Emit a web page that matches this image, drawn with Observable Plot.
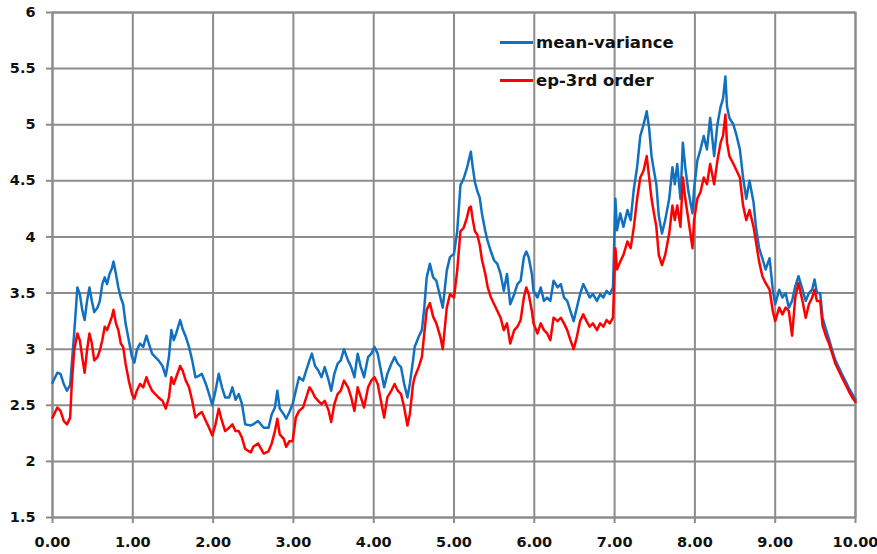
<!DOCTYPE html>
<html>
<head>
<meta charset="utf-8">
<script src="https://cdn.jsdelivr.net/npm/d3@7"></script>
<script src="https://cdn.jsdelivr.net/npm/@observablehq/plot@0.6"></script>
<style>
  html, body { margin: 0; padding: 0; background: #fff; }
  #wrap { position: relative; width: 877px; height: 554px; font-family: "DejaVu Sans", sans-serif; }
  #legend { position: absolute; left: 500px; top: 23px; font-weight: bold; font-size: 16.5px; color: #111; }
  .item { display: flex; align-items: center; height: 38px; }
  .swatch { width: 33px; height: 3px; margin-right: 3px; }
</style>
</head>
<body>
<div id="wrap">
  <div id="chart"></div>
  <div id="legend">
    <div class="item"><span class="swatch" style="background:#1170c0"></span>mean-variance</div>
    <div class="item"><span class="swatch" style="background:#ff0000"></span>ep-3rd order</div>
  </div>
</div>
<script>
const seriesNames = ["mean-variance", "ep-3rd order"];
const seriesColors = ["#1170c0", "#ff0000"];

const xs = [
  0.00,0.06,0.10,0.14,0.18,0.22,0.24,0.27,0.31,0.34,
  0.37,0.40,0.43,0.46,0.49,0.52,0.56,0.59,0.62,0.65,
  0.68,0.71,0.74,0.76,0.79,0.82,0.85,0.88,0.91,0.95,
  0.99,1.02,1.05,1.09,1.13,1.17,1.20,1.24,1.28,1.32,
  1.37,1.41,1.45,1.48,1.51,1.54,1.59,1.62,1.66,1.70,
  1.74,1.78,1.82,1.86,1.91,1.95,1.99,2.03,2.07,2.11,
  2.15,2.20,2.24,2.28,2.32,2.36,2.40,2.47,
  2.50,2.56,2.63,2.69,2.73,2.77,2.80,2.83,2.88,2.91,
  2.95,2.99,3.03,3.07,3.12,3.16,3.20,3.23,3.27,3.31,
  3.35,3.39,3.44,3.47,3.51,3.55,3.59,3.63,3.68,3.72,
  3.76,3.80,3.84,3.88,3.93,3.97,4.01,4.05,4.09,4.13,
  4.17,4.22,4.26,4.30,4.34,4.38,4.42,4.45,4.49,4.51,
  4.56,4.60,4.63,4.66,4.70,4.74,4.78,4.83,4.86,4.91,
  4.95,
  5.00,5.04,5.08,5.12,5.16,5.19,5.21,5.23,5.26,5.29,
  5.32,5.35,5.39,5.42,5.46,5.50,5.54,5.58,5.62,5.66,
  5.70,5.75,5.79,5.83,5.87,5.90,5.93,5.97,5.99,6.04,
  6.08,6.12,6.16,6.20,6.24,6.29,6.33,6.37,6.41,6.45,
  6.49,6.53,6.57,6.61,6.65,6.69,6.73,6.78,6.82,6.86,
  6.90,6.94,6.98,
  7.01,7.03,7.07,7.11,7.16,7.20,7.24,7.28,7.32,7.36,
  7.40,7.43,7.46,7.49,7.52,7.55,7.59,7.63,7.68,7.72,
  7.75,7.78,7.82,7.85,7.88,7.92,7.97,7.99,8.03,8.07,
  8.11,8.15,8.19,8.24,8.28,8.32,8.35,8.38,8.40,8.43,
  8.48,8.52,8.56,8.60,8.64,8.68,8.73,8.76,8.80,8.84,
  8.88,8.93,8.97,9.00,9.05,9.09,9.13,9.17,9.21,9.25,
  9.29,9.34,9.38,9.42,9.46,9.49,9.52,9.56,9.59,9.63,
  9.67,9.71,9.75,9.79,9.83,9.88,9.92,9.96,10.00
];

const meanVariance = [
  2.70,2.79,2.78,2.69,2.63,2.68,2.87,3.14,3.55,3.49,
  3.35,3.26,3.43,3.55,3.43,3.33,3.37,3.43,3.58,3.64,
  3.58,3.67,3.72,3.78,3.67,3.55,3.46,3.40,3.23,3.08,
  2.93,2.88,2.99,3.05,3.02,3.12,3.05,2.96,2.93,2.90,
  2.85,2.76,2.93,3.17,3.08,3.14,3.26,3.18,3.11,3.02,
  2.90,2.75,2.76,2.78,2.69,2.60,2.50,2.63,2.78,2.66,
  2.57,2.57,2.66,2.55,2.60,2.51,2.33,2.32,
  2.33,2.36,2.30,2.30,2.42,2.48,2.63,2.47,2.42,2.38,
  2.44,2.51,2.63,2.75,2.72,2.81,2.90,2.96,2.85,2.81,
  2.75,2.84,2.72,2.63,2.78,2.87,2.90,3.00,2.90,2.84,
  2.75,2.96,2.84,2.75,2.93,2.96,3.02,2.96,2.81,2.66,
  2.78,2.87,2.93,2.87,2.84,2.69,2.57,2.69,2.90,3.02,
  3.11,3.17,3.37,3.64,3.76,3.64,3.61,3.46,3.37,3.70,
  3.82,
  3.85,4.05,4.46,4.52,4.61,4.70,4.76,4.64,4.49,4.41,
  4.35,4.20,4.05,3.96,3.87,3.79,3.76,3.67,3.52,3.67,
  3.40,3.49,3.58,3.61,3.82,3.87,3.82,3.67,3.52,3.46,
  3.55,3.43,3.46,3.43,3.61,3.55,3.58,3.46,3.43,3.34,
  3.25,3.37,3.49,3.58,3.52,3.46,3.49,3.43,3.49,3.46,
  3.52,3.49,3.55,
  4.34,4.06,4.21,4.09,4.24,4.15,4.43,4.62,4.90,5.00,
  5.12,4.97,4.72,4.59,4.47,4.19,4.03,4.15,4.34,4.62,
  4.47,4.65,4.34,4.84,4.62,4.40,4.21,4.43,4.68,4.78,
  4.90,4.78,5.06,4.72,5.00,5.16,5.23,5.43,5.16,5.06,
  5.00,4.90,4.78,4.53,4.34,4.50,4.31,4.09,3.90,3.81,
  3.71,3.81,3.53,3.40,3.53,3.46,3.50,3.37,3.43,3.56,
  3.65,3.53,3.43,3.50,3.53,3.62,3.50,3.50,3.28,3.18,
  3.09,2.99,2.90,2.84,2.78,2.71,2.65,2.60,2.55
];

const ep3rdOrder = [
  2.39,2.48,2.45,2.36,2.33,2.39,2.69,2.99,3.14,3.08,
  2.93,2.79,2.99,3.14,3.05,2.90,2.93,2.99,3.08,3.20,
  3.17,3.23,3.29,3.35,3.23,3.17,3.05,3.02,2.87,2.72,
  2.60,2.56,2.63,2.69,2.66,2.75,2.69,2.63,2.60,2.57,
  2.54,2.47,2.57,2.75,2.69,2.75,2.85,2.81,2.72,2.66,
  2.54,2.39,2.42,2.44,2.36,2.30,2.23,2.33,2.47,2.36,
  2.27,2.30,2.33,2.27,2.27,2.21,2.11,2.08,
  2.13,2.16,2.07,2.09,2.16,2.27,2.38,2.24,2.20,2.13,
  2.18,2.18,2.39,2.45,2.48,2.57,2.66,2.63,2.57,2.54,
  2.51,2.54,2.45,2.35,2.51,2.60,2.63,2.72,2.66,2.57,
  2.45,2.66,2.57,2.48,2.66,2.72,2.75,2.69,2.54,2.39,
  2.57,2.63,2.69,2.63,2.60,2.48,2.32,2.42,2.69,2.75,
  2.84,2.93,3.14,3.35,3.41,3.29,3.23,3.11,3.00,3.37,
  3.49,
  3.46,3.70,4.05,4.08,4.17,4.26,4.27,4.17,4.05,4.02,
  3.93,3.79,3.67,3.55,3.46,3.40,3.34,3.28,3.17,3.23,
  3.05,3.17,3.20,3.26,3.46,3.55,3.49,3.34,3.23,3.14,
  3.23,3.17,3.14,3.08,3.28,3.25,3.28,3.23,3.17,3.08,
  3.00,3.11,3.25,3.31,3.25,3.20,3.23,3.17,3.23,3.20,
  3.26,3.23,3.28,
  3.90,3.71,3.78,3.84,3.96,3.90,4.09,4.34,4.53,4.59,
  4.72,4.53,4.34,4.21,4.09,3.84,3.75,3.84,4.03,4.28,
  4.15,4.28,4.09,4.53,4.34,4.15,3.90,4.15,4.34,4.40,
  4.53,4.47,4.65,4.47,4.68,4.84,4.90,5.09,4.84,4.72,
  4.65,4.59,4.53,4.28,4.15,4.24,4.09,3.96,3.78,3.65,
  3.59,3.53,3.34,3.25,3.37,3.31,3.37,3.34,3.12,3.46,
  3.59,3.43,3.28,3.40,3.46,3.53,3.43,3.43,3.21,3.12,
  3.05,2.96,2.87,2.81,2.75,2.68,2.62,2.57,2.53
];

const xTicks = [0,1,2,3,4,5,6,7,8,9,10];
const xTickLabels = ["0.00","1.00","2.00","3.00","4.00","5.00","6.00","7.00","8.00","9.00","10.00"];
const yTicks = [1.5,2,2.5,3,3.5,4,4.5,5,5.5,6];
const yTickLabels = ["1.5","2","2.5","3","3.5","4","4.5","5","5.5","6"];

const rows = [];
xs.forEach((x, i) => {
  rows.push({x, y: meanVariance[i], s: seriesNames[0]});
});
xs.forEach((x, i) => {
  rows.push({x, y: ep3rdOrder[i], s: seriesNames[1]});
});

const grid = "#8c8c8c";
const chart = Plot.plot({
  width: 877,
  height: 554,
  marginLeft: 52,
  marginRight: 22,
  marginTop: 12,
  marginBottom: 37,
  style: {fontFamily: "'DejaVu Sans', sans-serif", fontWeight: "bold", fontSize: "14px", color: "#111", background: "#fff"},
  x: {domain: [0, 10]},
  y: {domain: [1.5, 6]},
  color: {domain: seriesNames, range: seriesColors},
  marks: [
    Plot.gridX(xTicks, {stroke: grid, strokeOpacity: 1, strokeWidth: 2}),
    Plot.gridY(yTicks, {stroke: grid, strokeOpacity: 1, strokeWidth: 2}),
    Plot.frame({stroke: grid, strokeWidth: 2}),
    Plot.axisX(xTicks, {tickSize: 6, tickPadding: 13, stroke: grid, strokeWidth: 2,
      tickFormat: (d) => xTickLabels[xTicks.indexOf(d)], label: null, fontSize: 14.5}),
    Plot.axisY(yTicks, {tickSize: 6, tickPadding: 11, stroke: grid, strokeWidth: 2,
      tickFormat: (d) => yTickLabels[yTicks.indexOf(d)], label: null, fontSize: 14.5}),
    Plot.line(rows, {x: "x", y: "y", z: "s", stroke: "s", strokeWidth: 2.5, strokeLinejoin: "round"})
  ]
});
document.getElementById("chart").appendChild(chart);
</script>
</body>
</html>
